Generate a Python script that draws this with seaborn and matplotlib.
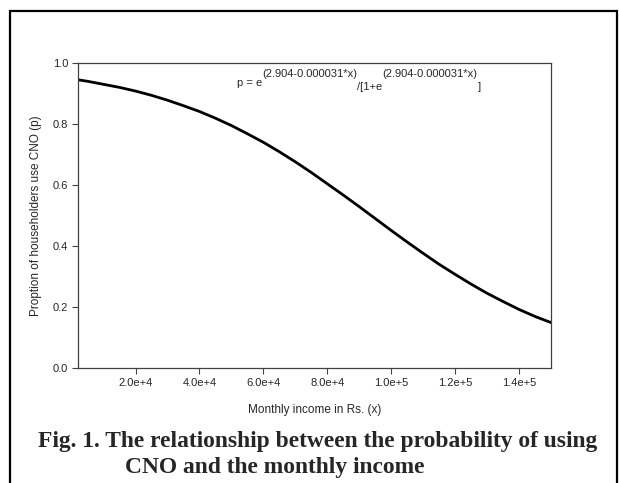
import matplotlib
matplotlib.use("Agg")
import matplotlib.pyplot as plt
import seaborn as sns
import pandas as pd
from matplotlib.patches import Rectangle

# Data
income = [2000, 5000, 10000, 15000, 20000, 25000, 30000, 35000, 40000, 45000,
          50000, 55000, 60000, 65000, 70000, 75000, 80000, 85000, 90000, 95000,
          100000, 105000, 110000, 115000, 120000, 125000, 130000, 135000, 140000,
          145000, 150000]
proportion = [0.945, 0.940, 0.930, 0.920, 0.908, 0.894, 0.878, 0.860, 0.841, 0.819,
              0.795, 0.768, 0.740, 0.709, 0.676, 0.641, 0.604, 0.567, 0.529, 0.490,
              0.451, 0.413, 0.376, 0.340, 0.307, 0.275, 0.245, 0.218, 0.192,
              0.169, 0.149]
x_ticks = [20000, 40000, 60000, 80000, 100000, 120000, 140000]
x_tick_labels = ["2.0e+4", "4.0e+4", "6.0e+4", "8.0e+4", "1.0e+5", "1.2e+5", "1.4e+5"]
y_ticks = [0.0, 0.2, 0.4, 0.6, 0.8, 1.0]
y_tick_labels = ["0.0", "0.2", "0.4", "0.6", "0.8", "1.0"]
formula_parts = ["p = e", "(2.904-0.000031*x)", "/[1+e", "(2.904-0.000031*x)", "]"]
formula_levels = [0, 1, -1, 1, -1]

sns.set_style("white")
plt.rcParams["font.family"] = ["Liberation Sans", "DejaVu Sans"]

W, H = 619, 483
fig = plt.figure(figsize=(W / 100, H / 100), dpi=100)
ax = fig.add_axes([78 / W, 1 - 368 / H, (551 - 78) / W, (368 - 63) / H])

df = pd.DataFrame({"income": income, "p": proportion})
sns.lineplot(data=df, x="income", y="p", ax=ax, color="black", linewidth=2.0)

ax.set_xlim(2000, 150000)
ax.set_ylim(0, 1.0)
ax.set_xticks(x_ticks)
ax.set_xticklabels(x_tick_labels, fontsize=8)
ax.set_yticks(y_ticks)
ax.set_yticklabels(y_tick_labels, fontsize=8)
ax.tick_params(axis="both", direction="out", length=4, width=0.8, color="#404040",
               left=True, bottom=True, top=False, right=False, pad=3)
for s in ax.spines.values():
    s.set_visible(True)
    s.set_color("#404040")
    s.set_linewidth(0.9)

ax.set_xlabel("Monthly income in Rs. (x)", fontsize=8.5, labelpad=12)
ax.set_ylabel("Proption of householders use CNO (p)", fontsize=8.5, labelpad=8)

# Formula built from pieces (superscript / subscript at near-full size)
renderer = fig.canvas.get_renderer()
xpix = 237.0
base_y = 86.0
offsets = {0: 0.0, 1: -9.0, -1: 3.5}
for part, lvl in zip(formula_parts, formula_levels):
    t = fig.text(xpix / W, 1 - (base_y + offsets[lvl]) / H, part,
                 fontsize=8.0, ha="left", va="baseline")
    bb = t.get_window_extent(renderer=renderer)
    xpix += bb.width

fig.text(38 / W, 1 - 441 / H, "Fig. 1. The relationship between the probability of using",
         fontsize=16.9, fontweight="bold", family="Liberation Serif", ha="left", va="center")
fig.text(125 / W, 1 - 467 / H, "CNO and the monthly income",
         fontsize=16.9, fontweight="bold", family="Liberation Serif", ha="left", va="center")

border = Rectangle((10 / W, -0.05), (617 - 10) / W, (1 - 11 / H) + 0.05,
                   transform=fig.transFigure, fill=False, edgecolor="black",
                   linewidth=1.6, clip_on=False)
fig.patches.append(border)

fig.savefig("out.png", dpi=100)
